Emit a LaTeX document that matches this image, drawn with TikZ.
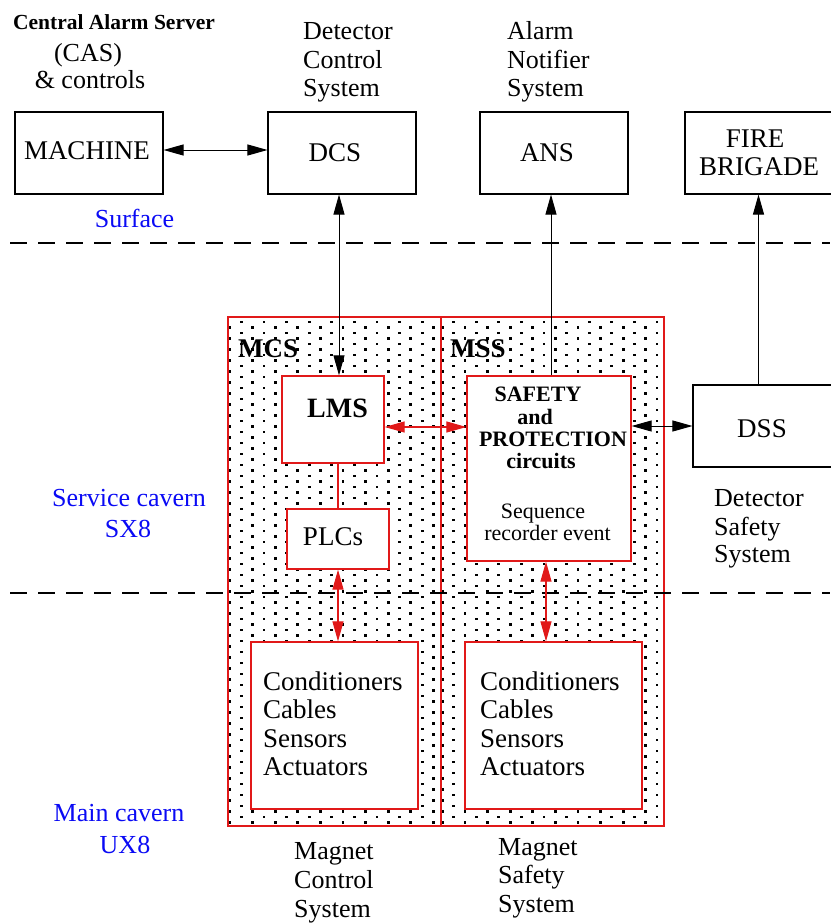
\documentclass[tikz,border=0pt]{standalone}
\usepackage{fontspec}
\setmainfont{Liberation Serif}
\usetikzlibrary{arrows.meta}
\definecolor{myred}{RGB}{225,25,25}
\definecolor{myblue}{RGB}{10,10,245}
\newcommand{\myfs}[1]{\fontsize{#1}{#1}\selectfont}
\tikzset{
 bbox/.style={draw=black, line width=1.1pt, fill=white, inner sep=0pt},
 rbox/.style={draw=myred, line width=1.3pt, fill=white, inner sep=0pt},
 panel/.style={draw=myred, line width=1.3pt, inner sep=0pt},
 lbl/.style={inner sep=0pt, anchor=base},
 lblw/.style={inner sep=0pt, anchor=base west},
 reg/.style={font=\myfs{26}},
 boxtxt/.style={font=\myfs{27}},
 bigbold/.style={font=\myfs{27}\bfseries},
 place/.style={font=\myfs{26}, text=myblue},
 conn/.style={line width=1pt, draw=black},
 rconn/.style={line width=1.2pt, draw=myred},
 sep/.style={dash pattern=on 17pt off 11pt, line width=1.1pt},
}
\begin{document}
\begin{tikzpicture}[x=1pt,y=-1pt,>={Triangle[length=20pt,width=11pt]}]
\useasboundingbox (0,0) rectangle (830,923);
\fill[white] (0,0) rectangle (830,923);

% dot pattern, left panel
\foreach \i in {0,...,18}{
  \pgfmathsetmacro\xx{230+11.3*\i}
  \pgfmathsetmacro\yy{322+5.5*(1-mod(\i,2))}
  \foreach \k in {0,...,45}{
    \fill (\xx-1.4,\yy+11*\k-1.4) rectangle ++(2.8,2.8);
  }
}
% dot pattern, right panel
\foreach \j in {0,...,19}{
  \pgfmathsetmacro\xx{442.3+11.3*\j}
  \pgfmathsetmacro\yy{322+5.5*(1-mod(\j,2))}
  \foreach \k in {0,...,45}{
    \fill (\xx-1.4,\yy+11*\k-1.4) rectangle ++(2.8,2.8);
  }
}

% panels
\node[panel, minimum width=213pt, minimum height=509pt] (mcspanel) at (334.5,571.5) {};
\node[panel, minimum width=223pt, minimum height=509pt] (msspanel) at (552.5,571.5) {};

% black boxes
\node[bbox, minimum width=148pt, minimum height=82pt] (machine) at (89,153) {};
\node[bbox, minimum width=148pt, minimum height=82pt] (dcs) at (342,153) {};
\node[bbox, minimum width=148pt, minimum height=82pt] (ans) at (554,153) {};
\node[bbox, minimum width=147pt, minimum height=82pt] (fire) at (758.5,153) {};
\node[bbox, minimum width=139pt, minimum height=82pt] (dss) at (762.5,426) {};

% red boxes
\node[rbox, minimum width=102pt, minimum height=87pt] (lms) at (333,419.5) {};
\node[rbox, minimum width=164pt, minimum height=185pt] (safety) at (549,468.5) {};
\node[rbox, minimum width=102pt, minimum height=60pt] (plcs) at (338,539) {};
\node[rbox, minimum width=167pt, minimum height=167pt] (cond1) at (334.5,725.5) {};
\node[rbox, minimum width=177pt, minimum height=167pt] (cond2) at (553.5,725.5) {};

% separators
\coordinate (s1l) at (10,243);
\coordinate (s1r) at (830,243);
\coordinate (s2l) at (10,593);
\coordinate (s2r) at (830,593);
\draw[sep] (s1l) -- (s1r);
\draw[sep] (s2l) -- (s2r);

% connectors
\draw[conn,<->] ([yshift=3pt]machine.east) -- ([yshift=3pt]dcs.west);
\coordinate (a1) at ([xshift=-3pt]dcs.south);
\draw[conn,<->] (a1) -- (a1 |- lms.north);
\coordinate (a2) at ([xshift=-3pt]ans.south);
\draw[conn,->] (a2 |- safety.north) -- (a2);
\draw[conn,->] (fire.south |- dss.north) -- (fire.south);
\coordinate (a3) at ([yshift=-7.5pt]lms.east);
\draw[rconn,<->] (a3) -- (a3 -| safety.west);
\draw[conn,<->] (dss.west -| safety.east) -- (dss.west);
\draw[rconn] (plcs.north |- lms.south) -- (plcs.north);
\draw[rconn,<->] (plcs.south) -- (plcs.south |- cond1.north);
\coordinate (a4) at ([xshift=-3pt]safety.south);
\draw[rconn,<->] (a4) -- (a4 |- cond2.north);

% top labels
\node[lbl, font=\myfs{21.5}\bfseries] (cas1) at (114,30) {Central Alarm Server};
\node[lbl, reg] (cas2) at (88,62) {(CAS)};
\node[lbl, reg] (cas3) at (90,89) {\& controls};
\node[lblw, reg] (dcs1) at (303,40) {Detector};
\node[lblw, reg] (dcs2) at (303,68.5) {Control};
\node[lblw, reg] (dcs3) at (303,97) {System};
\node[lblw, reg] (ans1) at (507,40) {Alarm};
\node[lblw, reg] (ans2) at (507,68.5) {Notifier};
\node[lblw, reg] (ans3) at (507,97) {System};

% box texts
\node[lbl, boxtxt] (tmachine) at (87,159.5) {MACHINE};
\node[lbl, boxtxt] (tdcs) at (335,161.5) {DCS};
\node[lbl, boxtxt] (tans) at (547,161) {ANS};
\node[lbl, boxtxt] (tfire1) at (755,147.5) {FIRE};
\node[lbl, boxtxt] (tfire2) at (759,175) {BRIGADE};
\node[lbl, boxtxt] (tdss) at (762,437.5) {DSS};
\node[lbl, font=\myfs{28}\bfseries] (tlms) at (337.5,417) {LMS};
\node[lbl, boxtxt] (tplcs) at (333,545) {PLCs};
\node[lbl, font=\myfs{22}\bfseries] (ts1) at (538,401) {SAFETY};
\node[lbl, font=\myfs{22}\bfseries] (ts2) at (535,424) {and};
\node[lbl, font=\myfs{22}\bfseries] (ts3) at (553,446) {PROTECTION};
\node[lbl, font=\myfs{22}\bfseries] (ts4) at (541,468) {circuits};
\node[lbl, font=\myfs{22}] (ts5) at (543,518.5) {Sequence};
\node[lbl, font=\myfs{22}] (ts6) at (547.5,540.5) {recorder event};
\node[lblw, bigbold] (tmcs) at (238,357) {MCS};
\node[lblw, bigbold] (tmss) at (450,357) {MSS};

\node[lblw, boxtxt] (c1a) at (263,690) {Conditioners};
\node[lblw, boxtxt] (c1b) at (263,718) {Cables};
\node[lblw, boxtxt] (c1c) at (263,747) {Sensors};
\node[lblw, boxtxt] (c1d) at (263,775) {Actuators};
\node[lblw, boxtxt] (c2a) at (480,690) {Conditioners};
\node[lblw, boxtxt] (c2b) at (480,718) {Cables};
\node[lblw, boxtxt] (c2c) at (480,747) {Sensors};
\node[lblw, boxtxt] (c2d) at (480,775) {Actuators};

% side labels
\node[lblw, reg] (dss1) at (714,506) {Detector};
\node[lblw, reg] (dss2) at (714,535) {Safety};
\node[lblw, reg] (dss3) at (714,562) {System};
\node[lblw, reg] (mcs1) at (294,859) {Magnet};
\node[lblw, reg] (mcs2) at (294,888) {Control};
\node[lblw, reg] (mcs3) at (294,917) {System};
\node[lblw, reg] (mss1) at (498,855) {Magnet};
\node[lblw, reg] (mss2) at (498,883) {Safety};
\node[lblw, reg] (mss3) at (498,912) {System};

% place labels
\node[lbl, place] (surf) at (134.5,227) {Surface};
\node[lbl, place] (sx1) at (129,506) {Service cavern};
\node[lbl, place] (sx2) at (128,537) {SX8};
\node[lbl, place] (ux1) at (119,821) {Main cavern};
\node[lbl, place] (ux2) at (125,853) {UX8};
\end{tikzpicture}
\end{document}
